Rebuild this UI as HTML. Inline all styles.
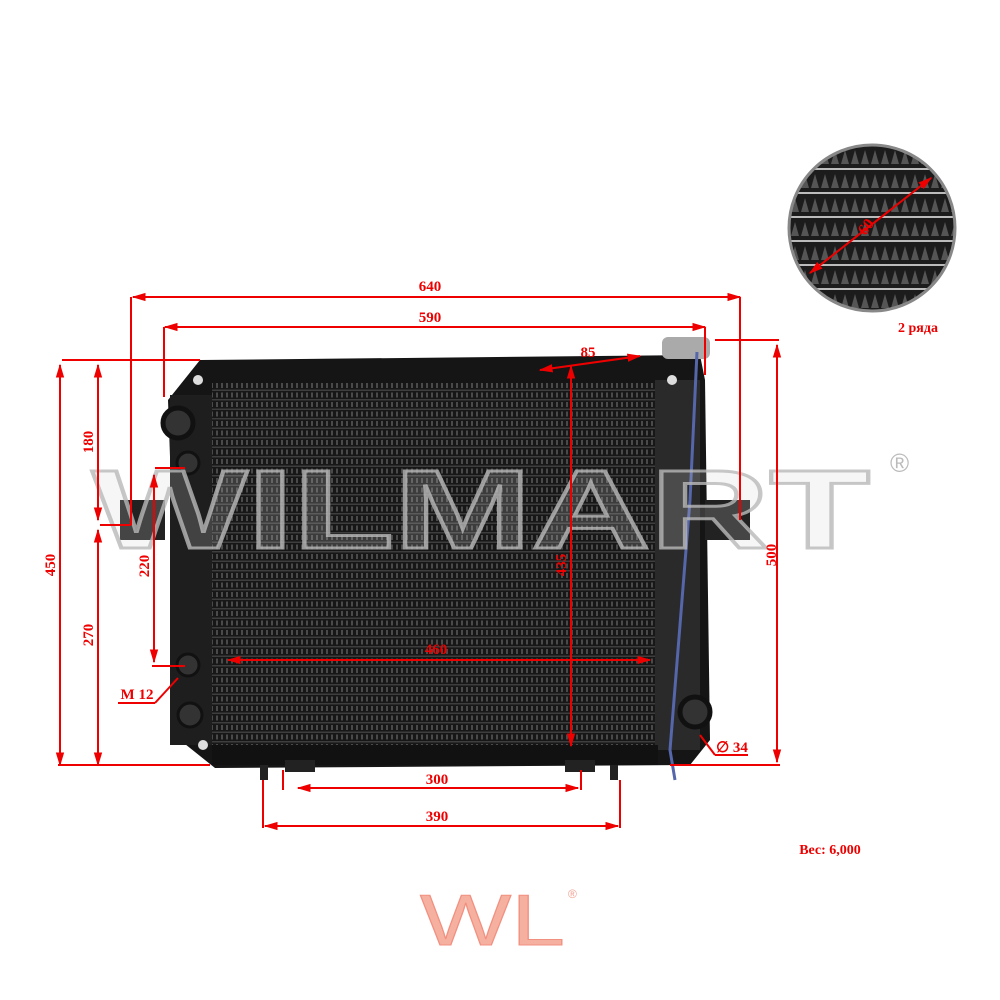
<!DOCTYPE html>
<html><head><meta charset="utf-8"><style>html,body{margin:0;padding:0;background:#fff}svg{display:block}</style></head>
<body>
<svg width="1000" height="1000" viewBox="0 0 1000 1000" xmlns="http://www.w3.org/2000/svg" font-family="Liberation Serif, serif" font-weight="bold">
<defs>
<pattern id="core" width="5" height="9.5" patternUnits="userSpaceOnUse">
<rect width="5" height="9.5" fill="#171717"/>
<rect x="0" y="0" width="5" height="1.5" fill="#3e3e3e"/>
<rect x="1" y="3" width="2" height="5" fill="#4a4a4a"/>
</pattern>
<pattern id="fin" width="10" height="24" patternUnits="userSpaceOnUse">
<rect width="10" height="24" fill="#1c1c1c"/>
<path d="M1 20 L5 6 L9 20Z" fill="#555"/>
<rect y="0" width="10" height="2" fill="#bbb"/>
</pattern>
<clipPath id="cc"><circle cx="872" cy="228" r="83"/></clipPath>
<marker id="ar" viewBox="0 0 10 10" refX="9" refY="5" markerWidth="7" markerHeight="7" orient="auto-start-reverse"><path d="M0 2L10 5L0 8Z" fill="#e00"/></marker>
</defs>

<path d="M200 360 L700 355 L705 380 L710 740 L690 765 L215 768 L180 740 L168 400 Z" fill="#151515"/>
<rect x="120" y="500" width="45" height="40" fill="#222"/>
<rect x="705" y="500" width="45" height="40" fill="#222"/>
<rect x="212" y="383" width="446" height="365" fill="url(#core)"/>
<rect x="655" y="380" width="45" height="370" fill="#2a2a2a"/>
<rect x="170" y="395" width="42" height="350" fill="#1e1e1e"/>
<rect x="212" y="745" width="446" height="20" fill="#111"/>
<circle cx="178" cy="423" r="15" fill="#333" stroke="#111" stroke-width="5"/>
<circle cx="188" cy="463" r="11" fill="#333" stroke="#111" stroke-width="3"/>
<circle cx="188" cy="665" r="11" fill="#333" stroke="#111" stroke-width="3"/>
<circle cx="190" cy="715" r="12" fill="#333" stroke="#111" stroke-width="3"/>
<circle cx="695" cy="712" r="15" fill="#333" stroke="#111" stroke-width="5"/>
<rect x="662" y="337" width="48" height="22" rx="6" fill="#aaa"/>
<circle cx="198" cy="380" r="5" fill="#ddd"/><circle cx="672" cy="380" r="5" fill="#ddd"/><circle cx="203" cy="745" r="5" fill="#ddd"/>
<path d="M697 352 L690 500 L670 750 L675 780" stroke="#5566aa" stroke-width="3" fill="none"/>
<rect x="260" y="765" width="8" height="15" fill="#222"/><rect x="610" y="765" width="8" height="15" fill="#222"/>
<rect x="285" y="760" width="30" height="12" fill="#222"/><rect x="565" y="760" width="30" height="12" fill="#222"/>

<text x="92" y="548" font-family="Liberation Sans, sans-serif" font-size="112" font-weight="bold" textLength="778" lengthAdjust="spacingAndGlyphs" fill="rgba(210,210,210,0.2)" stroke="rgba(185,185,185,0.8)" stroke-width="3">WILMART</text>
<text x="890" y="472" font-family="Liberation Sans, sans-serif" font-size="26" fill="#bbb" font-weight="normal">®</text>

<g clip-path="url(#cc)"><rect x="780" y="140" width="190" height="180" fill="url(#fin)"/></g>
<circle cx="872" cy="228" r="83" fill="none" stroke="#888" stroke-width="3"/>
<line x1="810" y1="273" x2="931" y2="178" stroke="#e00" stroke-width="2" marker-start="url(#ar)" marker-end="url(#ar)"/>
<text x="0" y="0" font-size="16" fill="#e00" transform="translate(870 230) rotate(-52)" text-anchor="middle">60</text>
<text x="918" y="332" font-size="14" fill="#e00" text-anchor="middle">2 ряда</text>

<g stroke="#e00" stroke-width="2" fill="none">
<line x1="133" y1="297" x2="740" y2="297" marker-start="url(#ar)" marker-end="url(#ar)"/>
<line x1="131" y1="297" x2="131" y2="525"/><line x1="131" y1="525" x2="100" y2="525"/>
<line x1="740" y1="297" x2="740" y2="520"/>
<line x1="165" y1="327" x2="705" y2="327" marker-start="url(#ar)" marker-end="url(#ar)"/>
<line x1="164" y1="327" x2="164" y2="397"/><line x1="705" y1="327" x2="705" y2="375"/>
<line x1="540" y1="370" x2="640" y2="356" marker-start="url(#ar)" marker-end="url(#ar)"/>
<line x1="571" y1="366" x2="571" y2="746" marker-start="url(#ar)" marker-end="url(#ar)"/>
<line x1="228" y1="660" x2="650" y2="660" marker-start="url(#ar)" marker-end="url(#ar)"/>
<line x1="62" y1="360" x2="200" y2="360"/>
<line x1="60" y1="365" x2="60" y2="765" marker-start="url(#ar)" marker-end="url(#ar)"/>
<line x1="58" y1="765" x2="210" y2="765"/>
<line x1="98" y1="365" x2="98" y2="520" marker-start="url(#ar)" marker-end="url(#ar)"/>
<line x1="98" y1="530" x2="98" y2="765" marker-start="url(#ar)" marker-end="url(#ar)"/>
<line x1="154" y1="475" x2="154" y2="662" marker-start="url(#ar)" marker-end="url(#ar)"/>
<line x1="155" y1="468" x2="185" y2="468"/><line x1="152" y1="666" x2="185" y2="666"/>
<line x1="118" y1="703" x2="155" y2="703"/><line x1="155" y1="703" x2="178" y2="678"/>
<line x1="715" y1="340" x2="779" y2="340"/>
<line x1="777" y1="345" x2="777" y2="762" marker-start="url(#ar)" marker-end="url(#ar)"/>
<line x1="670" y1="765" x2="780" y2="765"/>
<line x1="700" y1="735" x2="715" y2="755"/><line x1="715" y1="755" x2="748" y2="755"/>
<line x1="298" y1="788" x2="578" y2="788" marker-start="url(#ar)" marker-end="url(#ar)"/>
<line x1="283" y1="770" x2="283" y2="790"/><line x1="581" y1="770" x2="581" y2="790"/>
<line x1="265" y1="826" x2="618" y2="826" marker-start="url(#ar)" marker-end="url(#ar)"/>
<line x1="263" y1="780" x2="263" y2="828"/><line x1="620" y1="780" x2="620" y2="828"/>
</g>
<g fill="#e00" font-size="15" text-anchor="middle">
<text x="430" y="291">640</text>
<text x="430" y="322">590</text>
<text x="588" y="357">85</text>
<text x="436" y="654">460</text>
<text x="437" y="784">300</text>
<text x="437" y="821">390</text>
<text x="137" y="699">M 12</text>
<text x="732" y="752">∅ 34</text>
<text transform="translate(55 565) rotate(-90)">450</text>
<text transform="translate(93 442) rotate(-90)">180</text>
<text transform="translate(93 635) rotate(-90)">270</text>
<text transform="translate(149 566) rotate(-90)">220</text>
<text transform="translate(776 555) rotate(-90)">500</text>
<text transform="translate(566 565) rotate(-90)">435</text>
<text x="830" y="854" font-size="14">Вес: 6,000</text>
</g>

<text x="420" y="945" font-family="Liberation Sans, sans-serif" font-size="72" font-weight="normal" textLength="145" lengthAdjust="spacingAndGlyphs" fill="#f6b0a0" stroke="#f29080" stroke-width="1">WL</text>
<text x="568" y="898" font-family="Liberation Sans, sans-serif" font-size="12" fill="#f4a090" font-weight="normal">®</text>
</svg>
</body></html>
